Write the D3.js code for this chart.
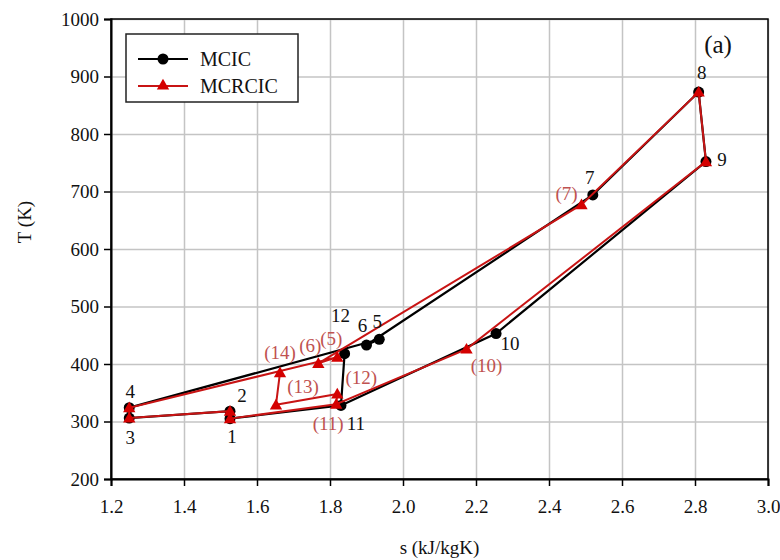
<html>
<head>
<meta charset="utf-8">
<script src="https://d3js.org/d3.v7.min.js"></script>
<style>
  body { margin: 0; background: #fff; }
  text { font-family: "Liberation Serif", "Times New Roman", serif; }
</style>
</head>
<body>
<svg id="chart" width="780" height="560"></svg>
<script>
// x / y ticks
var sTicks = [1.2, 1.4, 1.6, 1.8, 2.0, 2.2, 2.4, 2.6, 2.8, 3.0];
var tTicks = [200, 300, 400, 500, 600, 700, 800, 900, 1000];

// MCIC states (black)
var mcicLabels = ["1", "2", "3", "4", "5", "6", "7", "8", "9", "10", "11", "12"];
var mcicS = [1.526, 1.526, 1.25, 1.25, 1.935, 1.90, 2.52, 2.81, 2.83, 2.255, 1.83, 1.84];
var mcicT = [305, 318, 306, 324, 443, 433, 694, 873, 752, 453, 328, 418];
var mcicPath = ["11", "1", "2", "3", "4", "5", "6", "7", "8", "9", "10", "11", "12"];

// MCRCIC states (red)
var mcrcicLabels = ["1", "2", "3", "4", "(5)", "(6)", "(7)", "8", "9", "(10)", "(11)", "(12)", "(13)", "(14)"];
var mcrcicS = [1.526, 1.526, 1.25, 1.25, 1.82, 1.768, 2.489, 2.81, 2.83, 2.174, 1.817, 1.82, 1.652, 1.663];
var mcrcicT = [305, 318, 306, 324, 412, 401, 677, 873, 752, 426, 330, 348, 329, 385];
var mcrcicPath = ["(11)", "1", "2", "3", "4", "(5)", "(6)", "(7)", "8", "9", "(10)", "(11)", "(12)", "(13)", "(14)"];

// where the state numbers sit, in px from the marker (null = not written)
var mcicLabelPos = [[2, 18], [12, -16], [1, 19], [1, -16], [-2, -18], [-4, -20], [-3, -17], [3, -20], [16, -2], [14, 10], [15, 18], [-4, -38]];
var mcrcicLabelPos = [null, null, null, null, [-6, -19], [-8, -18], [-15, -11], null, null, [20, 16], [-8, 19], [24, -16], [27, -18], [0, -20]];

var margin = {top: 19, right: 12, bottom: 81, left: 111};
var W = 780 - margin.left - margin.right;
var H = 560 - margin.top - margin.bottom;
var serif = "'Liberation Serif', 'Times New Roman', serif";

var svg = d3.select("#chart");
var g = svg.append("g").attr("transform", "translate(" + margin.left + "," + margin.top + ")");

var x = d3.scaleLinear().domain([1.2, 3.0]).range([0, W]);
var y = d3.scaleLinear().domain([200, 1000]).range([H, 0]);

// grid
g.append("g").attr("transform", "translate(0," + H + ")")
  .call(d3.axisBottom(x).tickValues(sTicks).tickSize(-H).tickFormat(""))
  .call(a => a.select(".domain").remove())
  .selectAll("line").attr("stroke", "#c4c4c4").attr("stroke-width", 1.5);
g.append("g")
  .call(d3.axisLeft(y).tickValues(tTicks).tickSize(-W).tickFormat(""))
  .call(a => a.select(".domain").remove())
  .selectAll("line").attr("stroke", "#c4c4c4").attr("stroke-width", 1.5);

// frame
g.append("rect").attr("width", W).attr("height", H)
  .attr("fill", "none").attr("stroke", "#000").attr("stroke-width", 1.5);

// axes
var xAxis = g.append("g").attr("transform", "translate(0," + H + ")")
  .call(d3.axisBottom(x).tickValues(sTicks).tickSize(7).tickPadding(14).tickFormat(d3.format(".1f")));
var yAxis = g.append("g")
  .call(d3.axisLeft(y).tickValues(tTicks).tickSize(7).tickPadding(5).tickFormat(d3.format("d")));
[xAxis, yAxis].forEach(function(a) {
  a.attr("font-family", serif).attr("font-size", 19);
  a.select(".domain").attr("stroke-width", 2);
  a.selectAll("line").attr("stroke-width", 1.5);
  a.selectAll("text").attr("fill", "#111");
});

// axis titles
svg.append("text").attr("x", margin.left + W / 2).attr("y", 554)
  .attr("text-anchor", "middle").attr("font-size", "19px").attr("fill", "#111").text("s (kJ/kgK)");
svg.append("text").attr("transform", "translate(31," + (margin.top + 203) + ") rotate(-90)")
  .attr("text-anchor", "middle").attr("font-size", "19px").attr("fill", "#111").text("T (K)");

function states(labels, S, T, pos) {
  return labels.map(function(l, i) { return {label: l, s: S[i], t: T[i], pos: pos[i]}; });
}
var mcic = states(mcicLabels, mcicS, mcicT, mcicLabelPos);
var mcrcic = states(mcrcicLabels, mcrcicS, mcrcicT, mcrcicLabelPos);

var line = d3.line().x(d => x(d.s)).y(d => y(d.t));
function pathOf(pts, order) {
  return order.map(function(l) { return pts.find(p => p.label === l); });
}

var black = "#000", red = "#d40000", redLine = "#c81414", redText = "#bf5250";
var tri = d3.symbol().type(d3.symbolTriangle).size(66);

// MCIC
g.append("path").datum(pathOf(mcic, mcicPath)).attr("d", line)
  .attr("fill", "none").attr("stroke", black).attr("stroke-width", 2.2);
g.selectAll(".dotB").data(mcic).join("circle").attr("class", "dotB")
  .attr("cx", d => x(d.s)).attr("cy", d => y(d.t)).attr("r", 5.5).attr("fill", black);

// MCRCIC
g.append("path").datum(pathOf(mcrcic, mcrcicPath)).attr("d", line)
  .attr("fill", "none").attr("stroke", redLine).attr("stroke-width", 2);
g.selectAll(".triR").data(mcrcic).join("path").attr("class", "triR")
  .attr("transform", d => "translate(" + x(d.s) + "," + (y(d.t) + 1) + ")")
  .attr("d", tri).attr("fill", red);

// state labels
g.selectAll(".labB").data(mcic.filter(d => d.pos)).join("text").attr("class", "labB")
  .attr("x", d => x(d.s) + d.pos[0]).attr("y", d => y(d.t) + d.pos[1])
  .attr("text-anchor", "middle").attr("dominant-baseline", "central")
  .attr("font-size", "19px").attr("fill", "#111").text(d => d.label);
g.selectAll(".labR").data(mcrcic.filter(d => d.pos)).join("text").attr("class", "labR")
  .attr("x", d => x(d.s) + d.pos[0]).attr("y", d => y(d.t) + d.pos[1])
  .attr("text-anchor", "middle").attr("dominant-baseline", "central")
  .attr("font-size", "19px").attr("fill", redText).text(d => d.label);

// panel tag
svg.append("text").attr("x", 718).attr("y", 44).attr("text-anchor", "middle")
  .attr("dominant-baseline", "central").attr("font-size", "25px").attr("fill", "#111").text("(a)");

// legend
var legendItems = [{name: "MCIC", color: black, mark: "circle"}, {name: "MCRCIC", color: redLine, mark: "tri"}];
var lg = svg.append("g").attr("transform", "translate(126,34)");
lg.append("rect").attr("width", 172).attr("height", 68)
  .attr("fill", "#fff").attr("stroke", "#222").attr("stroke-width", 1.5);
var li = lg.selectAll(".li").data(legendItems).join("g").attr("class", "li")
  .attr("transform", (d, i) => "translate(0," + (25 + i * 27) + ")");
li.append("line").attr("x1", 12).attr("x2", 62).attr("stroke", d => d.color).attr("stroke-width", 2.2);
li.filter(d => d.mark === "circle").append("circle").attr("cx", 37).attr("r", 5.5).attr("fill", black);
li.filter(d => d.mark === "tri").append("path").attr("d", tri).attr("transform", "translate(37,0)").attr("fill", red);
li.append("text").attr("x", 74).attr("dominant-baseline", "central")
  .attr("font-size", "20px").attr("fill", "#111").text(d => d.name);
</script>
</body>
</html>
